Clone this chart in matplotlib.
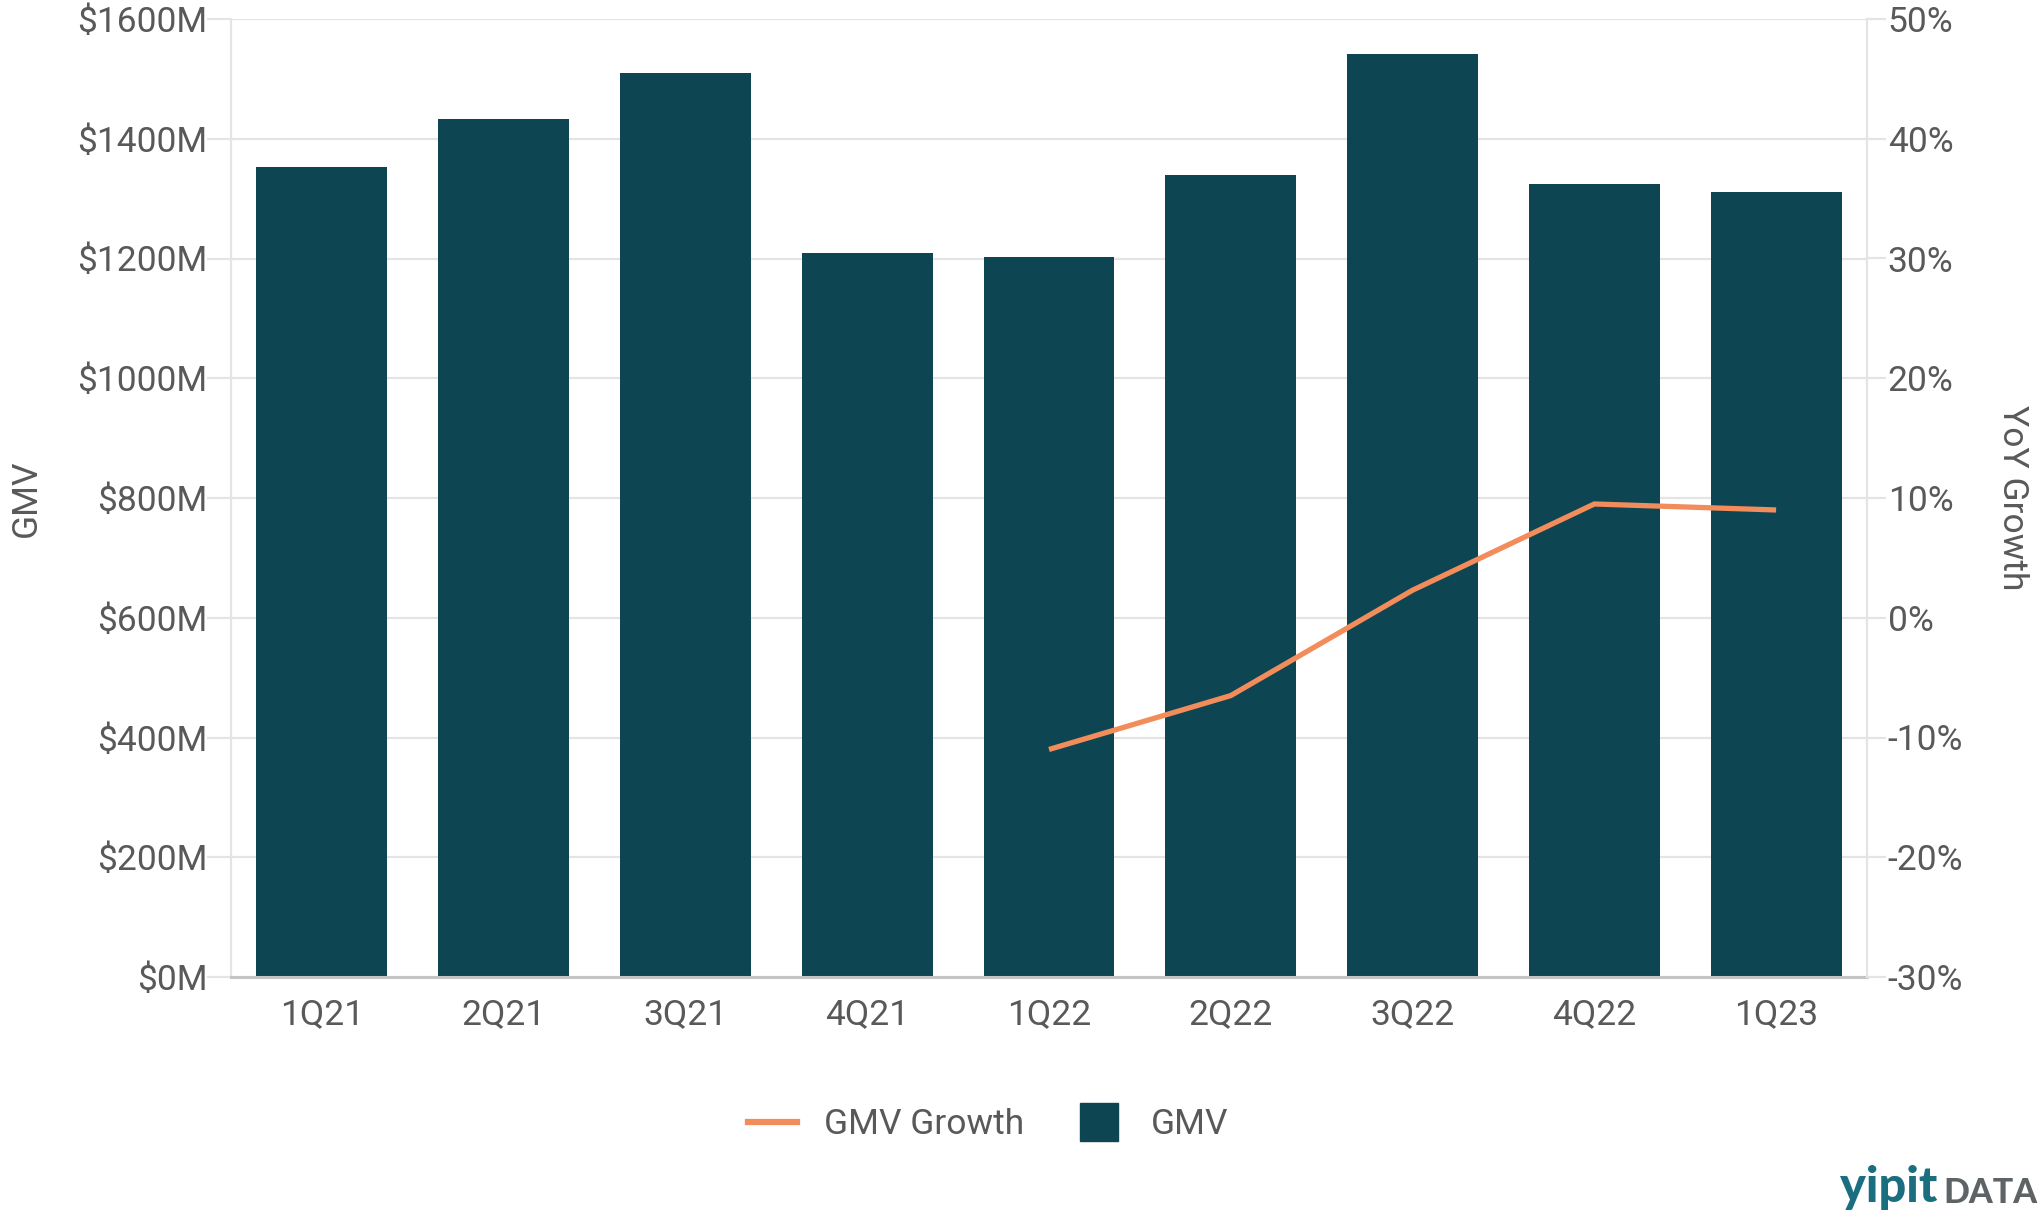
import matplotlib
matplotlib.use("Agg")
import matplotlib.pyplot as plt
from matplotlib.lines import Line2D
from matplotlib.ticker import FuncFormatter, MultipleLocator

quarters = ["1Q21", "2Q21", "3Q21", "4Q21", "1Q22", "2Q22", "3Q22", "4Q22", "1Q23"]
gmv = [1353, 1433, 1509, 1209, 1203, 1340, 1541, 1324, 1311]
growth_quarters = ["1Q22", "2Q22", "3Q22", "4Q22", "1Q23"]
growth = [-11.0, -6.5, 2.3, 9.5, 9.0]

BAR = "#0e4552"
ORANGE = "#f28c5b"
TXT = "#595959"
GRID = "#e4e4e4"

plt.rcParams['font.family'] = ['Roboto', 'DejaVu Sans']

fig = plt.figure(figsize=(20.4, 12.2), dpi=100)
ax = fig.add_axes([231/2040, 1-977/1220, (1867-231)/2040, (977-19)/1220])
ax2 = ax.twinx()

x = list(range(len(quarters)))
ax.bar(x, gmv, width=0.72, color=BAR, zorder=3)
gx = [quarters.index(q) for q in growth_quarters]
ax2.plot(gx, growth, color=ORANGE, linewidth=3.8, solid_joinstyle='miter', solid_capstyle='butt', zorder=4)

ax.set_xlim(-0.5, len(quarters)-0.5)
ax.set_ylim(0, 1600)
ax.yaxis.set_major_locator(MultipleLocator(200))
ax.yaxis.set_major_formatter(FuncFormatter(lambda v, p: f"${v:.0f}M"))
ax2.set_ylim(-30, 50)
ax2.yaxis.set_major_locator(MultipleLocator(10))
ax2.yaxis.set_major_formatter(FuncFormatter(lambda v, p: f"{v:.0f}%"))

ax.set_xticks(x)
ax.set_xticklabels(quarters)

ax.grid(axis='y', color=GRID, linewidth=1.6, zorder=0)
ax.set_axisbelow(True)

for a in (ax, ax2):
    for s in a.spines.values():
        s.set_visible(False)
ax.spines['left'].set_visible(True)
ax.spines['left'].set_color(GRID)
ax.spines['left'].set_linewidth(1.6)
ax2.spines['right'].set_visible(True)
ax2.spines['right'].set_color(GRID)
ax2.spines['right'].set_linewidth(1.6)
ax.spines['bottom'].set_visible(True)
ax.spines['bottom'].set_color("#c4c4c4")
ax.spines['bottom'].set_linewidth(2.2)
ax.spines['bottom'].set_zorder(5)

ax.tick_params(axis='y', length=17, width=1.6, color=GRID, pad=0, labelsize=25.5, labelcolor=TXT)
ax.tick_params(axis='x', length=0, pad=15, labelsize=25.5, labelcolor=TXT)
ax2.tick_params(axis='y', length=14, width=1.6, color=GRID, pad=1, labelsize=25.5, labelcolor=TXT)
for lab in ax2.get_yticklabels():
    lab.set_va('center_baseline')

fig.text(26/2040, 1-498/1220, "GMV", rotation=90, ha='center', va='center', fontsize=25.5, color=TXT)
fig.text(2013/2040, 1-498/1220, "YoY Growth", rotation=270, ha='center', va='center', fontsize=25.5, color=TXT)

handles = [Line2D([], [], color=ORANGE, linewidth=4.5),
           Line2D([], [], marker='s', color=BAR, markersize=27, linestyle='None')]
fig.legend(handles, ["GMV Growth", "GMV"], loc='center', bbox_to_anchor=(988/2040, 1-1125/1220),
           ncol=2, frameon=False, fontsize=25.5, labelcolor=TXT, handlelength=1.38,
           handletextpad=0.75, columnspacing=1.45)

fig.text(1840/2040, 1-1202/1220, "yipit", ha='left', va='baseline', fontsize=35,
         fontweight='black', family=['Lato', 'DejaVu Sans'], color="#1a6e80")
fig.text(1943/2040, 1-1203/1220, "DATA", ha='left', va='baseline', fontsize=24.5,
         fontweight='black', family=['Lato', 'DejaVu Sans'], color="#5e6466")

fig.savefig("out.png", dpi=100)
